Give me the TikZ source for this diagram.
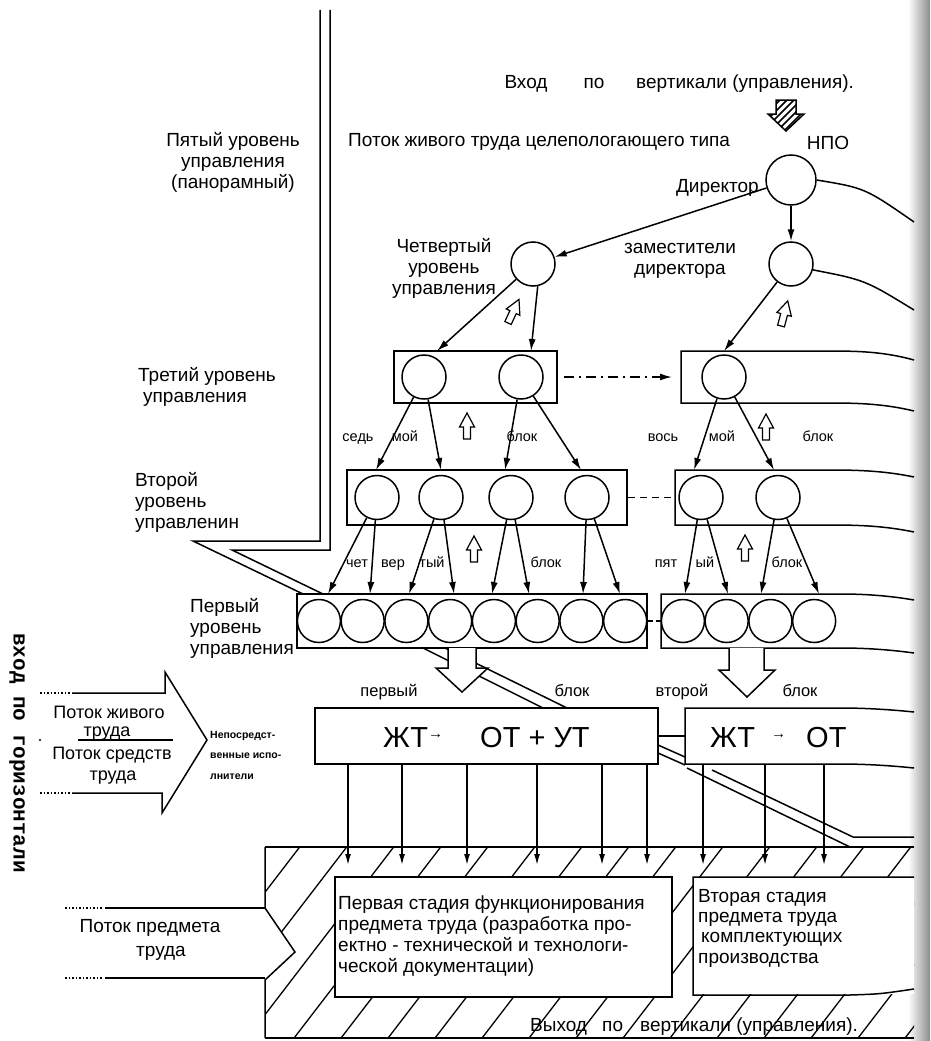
\documentclass[tikz,border=0pt]{standalone}
\usepackage{fontspec}
\setmainfont{Liberation Sans}
\newfontfamily\monob{Liberation Mono}
\usetikzlibrary{arrows.meta}
\tikzset{
  pics/uparr/.style={code={
    \draw[line width=1.2pt, fill=white] (-3.5,0) -- (-3.5,-12) -- (-7.5,-12) -- (0,-26) -- (7.5,-12) -- (3.5,-12) -- (3.5,0) -- cycle;}},
}
\begin{document}
\begin{tikzpicture}[x=1pt,y=-1pt,
  ln/.style={line width=1.5pt},
  bx/.style={draw, line width=1.5pt, inner sep=0pt},
  circ/.style={circle, draw, line width=1.5pt, inner sep=0pt, minimum size=44pt},
  arr/.style={line width=1.5pt, -{Latex[length=12pt,width=7pt]}},
  varr/.style={line width=1.4pt, -{Latex[length=11pt,width=6pt]}},
  lbl/.style={font=\fontsize{19}{21}\selectfont, inner sep=0pt},
  lbl1/.style={lbl, text height=13pt, text depth=3.5pt},
  rowa/.style={font=\fontsize{14.5}{16}\selectfont, inner sep=0pt, text height=10.5pt, text depth=3pt},
  rowb/.style={font=\fontsize{16.5}{18}\selectfont, inner sep=0pt, text height=12pt, text depth=3.5pt},
  tiny/.style={font=\bfseries\fontsize{10.5}{20.5}\selectfont, inner sep=0pt},
  big/.style={font=\fontsize{29}{32}\selectfont, inner sep=0pt, text height=21pt, text depth=0pt},
]
\path[use as bounding box, fill=white] (0,0) rectangle (930,1041);
\shade[left color=white, right color=black!45] (908,0) rectangle (930,1041);

% ---------- flow band (double line) ----------
\draw[ln] (320,10) -- (320,541) -- (193,541) -- (303,594);
\draw[ln] (330,10) -- (330,550) -- (232,550) -- (323,594);

% ---------- top texts ----------
\node[lbl1] (vx1) at (526,84) {Вход};
\node[lbl1] (vx2) at (594,84) {по};
\node[lbl1, anchor=west] (vx3) at (636,84) {вертикали (управления).};
\node[lbl1, anchor=west] (potok) at (348,142) {Поток живого труда целепологающего типа};
\node[lbl1] (npo) at (828,145) {НПО};
\node[lbl1, anchor=east] (dirl) at (759,188) {Директор};
\node[lbl, align=center] (l5) at (233,162) {Пятый уровень\\управления\\(панорамный)};
\node[lbl, align=center] (l4) at (444,268) {Четвертый\\уровень\\управления};
\node[lbl, align=center] (zam) at (680,261) {заместители\\директора};
\node[lbl, align=left, anchor=west] (l3) at (138,387) {Третий уровень\\\hspace*{5pt}управления};
\node[lbl, align=left, anchor=west] (l2) at (135,502) {Второй\\уровень\\управленин};
\node[lbl, align=left, anchor=west] (l1) at (190,628) {Первый\\уровень\\управления};

% hatched input arrow
\begin{scope}
  \clip (776,100) -- (796,100) -- (796,114) -- (804,114) -- (786,131) -- (768,114) -- (776,114) -- cycle;
  \foreach \k in {0,...,9} \draw[line width=1.6pt] (745+7*\k,135) -- ++(40,-40);
\end{scope}
\draw[ln] (776,100) -- (796,100) -- (796,114) -- (804,114) -- (786,131) -- (768,114) -- (776,114) -- cycle;

% ---------- director and deputies ----------
\node[circ, minimum size=50pt] (dir) at (791,180) {};
\node[circ] (dep1) at (533,264) {};
\node[circ] (dep2) at (791,264) {};
\draw[arr] (dir) -- (dep1);
\draw[arr] (dir) -- (dep2);
\draw[ln] (dir.east) .. controls (865,188) .. (914,222);
\draw[ln] (dep2.-15) .. controls (865,280) .. (914,310);

\pic[rotate=-25] at (508,323) {uparr};
\pic[rotate=-15] at (781,326) {uparr};

% ---------- third level ----------
\node[bx, minimum width=163pt, minimum height=52pt] (b3a) at (475.5,377) {};
\node[circ] (c31) at (424,377) {};
\node[circ] (c32) at (521,377) {};
\draw[ln] (914,360) .. controls (885,352) and (860,351) .. (830,351) -- (681,351) -- (681,403) -- (830,403) .. controls (860,403) and (885,404) .. (914,411);
\coordinate (b3b) at (681,377);
\node[circ] (c33) at (724,377) {};
\draw[arr, dash pattern=on 10pt off 5pt on 2pt off 5pt, shorten <=6pt, shorten >=9pt] (b3a.east) -- (b3b);

\coordinate (t3a) at (437,351);
\coordinate (t3b) at (531,351);
\coordinate (t3c) at (724,351);
\draw[arr] (dep1) -- (t3a);
\draw[arr] (dep1.-78) -- (t3b);
\draw[arr] (dep2) -- (t3c);

\pic at (467,439) {uparr};
\pic at (766,440) {uparr};

\node[rowa] (s1) at (358,438) {седь};
\node[rowa] (s2) at (405,438) {мой};
\node[rowa] (s3) at (522,438) {блок};
\node[rowa] (s4) at (663,438) {вось};
\node[rowa] (s5) at (722,438) {мой};
\node[rowa] (s6) at (818,438) {блок};

% ---------- second level ----------
\node[bx, minimum width=280pt, minimum height=55pt] (b2a) at (487,497.5) {};
\foreach \n/\x in {1/377,2/441,3/511,4/587,5/701,6/778}
  \node[circ] (c2\n) at (\x,497.5) {};
\draw[ln] (914,477) .. controls (885,471) and (860,470) .. (830,470) -- (675,470) -- (675,525) -- (830,525) .. controls (860,525) and (885,526) .. (914,532);
\coordinate (b2b) at (675,497.5);
\draw[ln, dash pattern=on 7pt off 5pt] (b2a.east) -- (b2b);

\foreach \s/\x in {c31/376,c31/441,c32/505,c32/581,c33/694,c33/774}{
  \coordinate (tt) at (\x,470);
  \draw[arr] (\s) -- (tt);
}

\pic at (474,562) {uparr};
\pic at (745,561) {uparr};

\node[rowa] (r1) at (357,564) {чет};
\node[rowa] (r2) at (393,564) {вер};
\node[rowa] (r3) at (432,564) {тый};
\node[rowa] (r4) at (546,564) {блок};
\node[rowa] (r5) at (666,564) {пят};
\node[rowa] (r6) at (705,564) {ый};
\node[rowa] (r7) at (787,564) {блок};

% ---------- first level ----------
\node[bx, minimum width=350pt, minimum height=54pt] (b1a) at (472,621) {};
\foreach \i in {0,...,7}
  \node[circ, minimum size=43pt] (c1\i) at ({318.9+43.75*\i},621) {};
\draw[ln] (914,600) .. controls (885,595) and (860,594) .. (840,594) -- (661,594) -- (661,648) -- (840,648) .. controls (860,648) and (885,649) .. (914,653);
\foreach \i in {0,...,3}
  \node[circ, minimum size=43pt] (c1r\i) at ({682.9+43.75*\i},621) {};
\coordinate (b1b) at (661,621);
\draw[ln, dash pattern=on 5pt off 3pt] (b1a.east) -- (b1b);

\foreach \s/\x in {c21/328,c21/370,c22/409,c22/454,c23/492,c23/529,c24/583,c24/620,c25/685,c25/728,c26/761,c26/819}{
  \coordinate (tt) at (\x,594);
  \draw[arr] (\s) -- (tt);
}

% band below first level
\draw[ln] (423,648) -- (543,708);
\draw[ln] (445,648) -- (567,708);

% hollow down arrows
\draw[ln, fill=white] (448,648) -- (448,668) -- (436,668) -- (462,692) -- (488,668) -- (476,668) -- (476,648);
\draw[ln, fill=white] (729,648) -- (729,670) -- (719,670) -- (747,697) -- (775,670) -- (764,670) -- (764,648);

\node[rowb] (p1) at (389,692) {первый};
\node[rowb] (p2) at (572,692) {блок};
\node[rowb] (p3) at (682,692) {второй};
\node[rowb] (p4) at (800,692) {блок};

% ---------- executors level ----------
\node[bx, minimum width=343pt, minimum height=56pt] (jt1) at (486.5,736) {};
\draw[ln] (914,712) .. controls (885,709) and (860,708) .. (840,708) -- (685,708) -- (685,764) -- (840,764) .. controls (860,764) and (885,765) .. (914,768);
\coordinate (jt2) at (685,736);
\draw[ln] (jt1.east) -- (jt2);
\draw[ln] (658,745) -- (685,757);
\draw[ln] (658,753) -- (685,765);

\node[big, anchor=west] (jtx1) at (383,737) {ЖТ\raisebox{9pt}{\fontsize{15}{15}\selectfont →}};
\node[big, anchor=west] (jtx2) at (480,737) {ОТ + УТ};
\node[big, anchor=west] (jtx3) at (710,737) {ЖТ};
\node[big, anchor=west] (jtx4) at (771,737) {\raisebox{9pt}{\fontsize{15}{15}\selectfont →}};
\node[big, anchor=west] (jtx5) at (806,737) {ОТ};

% band to the lower right
\draw[ln] (687,768) -- (850,847);
\draw[ln] (712,770) -- (853,837) -- (914,837);

% ---------- hatched object-of-labour zone ----------
\begin{scope}
  \clip (265,847) rectangle (914,1038);
  \foreach \k in {0,...,19} \draw[line width=1.3pt] (150+47*\k,1042) -- ++(152,-198);
\end{scope}
\fill[white] (265,908) -- (295,952) -- (265,980) -- cycle;
\node[bx, fill=white, minimum width=337pt, minimum height=120pt] (st1) at (503.5,937) {};
\fill[white] (693,877) rectangle (914,994);
\draw[ln] (914,877) -- (693,877) -- (693,995) -- (850,995) .. controls (880,994) .. (914,989);
\draw[ln] (265,847) -- (914,847);
\draw[ln] (265,1038) -- (914,1038);
\draw[ln] (265,847) -- (265,908) -- (295,952) -- (265,980) -- (265,1038);
\draw[ln] (105,908) -- (265,908);
\draw[ln] (105,978) -- (265,978);
\draw[ln, dotted] (65,908) -- (103,908);
\draw[ln, dotted] (65,978) -- (103,978);

\foreach \x in {348,402,467,537,602,647}{
  \coordinate (vs) at (\x,764);
  \coordinate (ve) at (\x,865);
  \draw[varr] (vs) -- (ve);
}
\foreach \x in {703,765,824}{
  \coordinate (vs) at (\x,764);
  \coordinate (ve) at (\x,865);
  \draw[varr] (vs) -- (ve);
}

\node[lbl, align=left, anchor=west] (st1t) at (338,936) {Первая стадия функционирования\\предмета труда (разработка про-\\ектно - технической и технологи-\\ческой документации)};
\node[font=\fontsize{19}{20.3}\selectfont, inner sep=0pt, align=left, anchor=west] (st2t) at (698,928) {Вторая стадия\\предмета труда\\\hspace*{3pt}комплектующих\\производства};
\node[lbl1] (pp1) at (150,928) {Поток предмета};
\node[lbl1] (pp2) at (161,952) {труда};

\node[lbl1, anchor=west] (out1) at (530,1027) {Выход};
\node[lbl1, anchor=west] (out2) at (602,1027) {по};
\node[lbl1, anchor=west] (out3) at (640,1027) {вертикали (управления).};

% ---------- horizontal input arrow ----------
\draw[ln] (72,693) -- (165,693) -- (165,672) -- (207,740) -- (162,813) -- (162,793) -- (72,793);
\draw[ln] (78,740) -- (173,740);
\draw[ln, dotted] (40,693) -- (70,693);
\draw[ln, dotted] (40,793) -- (70,793);
\fill (40,740) circle (1.2pt);
\node[font=\fontsize{18}{18}\selectfont, inner sep=0pt, anchor=base] (h1) at (109,718) {Поток живого};
\node[font=\fontsize{18}{18}\selectfont, inner sep=0pt, anchor=base] (h2) at (107,736) {труда};
\node[font=\fontsize{18}{18}\selectfont, inner sep=0pt, anchor=base] (h3) at (112,759) {Поток средств};
\node[font=\fontsize{18}{18}\selectfont, inner sep=0pt, anchor=base] (h4) at (113,780) {труда};
\node[tiny, align=left, anchor=west] (nep) at (210,755) {Непосредст-\\венные испо-\\лнители};

\node[rotate=-90, font=\monob\bfseries\fontsize{21}{21}\selectfont, inner sep=0pt] (vert) at (17,753) {вход по горизонтали};
\end{tikzpicture}
\end{document}
